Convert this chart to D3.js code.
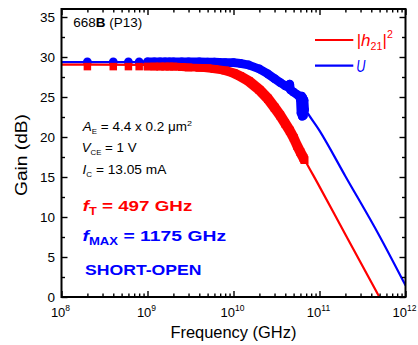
<!DOCTYPE html>
<html><head><meta charset="utf-8">
<script src="https://cdn.jsdelivr.net/npm/d3@7"></script>
<style>
body{margin:0;background:#fff}
text{font-family:"Liberation Sans",Arial,sans-serif}
</style>
</head><body>
<svg id="c" width="418" height="345"></svg>
<script>
// ---------- data (frequency in GHz, gain in dB) ----------
const h21LineFreqGHz = [0.1, 1, 3, 10, 20, 30, 50, 67, 100, 200, 497];
const h21LineDb      = [29.05, 29.0, 28.85, 28.2, 26.1, 23.8, 19.8, 17.2, 13.8, 7.8, 0];

const uLineFreqGHz = [0.1, 1, 10, 20, 30, 45, 60, 70, 100, 200, 500, 1000];
const uLineDb      = [29.35, 29.35, 29.2, 28.5, 27.3, 26.0, 24.6, 23.3, 20.8, 15.1, 7.6, 1.45];

const h21MeasFreqGHz = [0.2,0.4,0.6,0.8,1.0,1.2,1.4,1.6,1.8,2.0,2.5,3,4,5,6,8,10,12,15,20,25,30,35,40,45,50,55,60,65,67];
const h21MeasDb      = [28.8,28.8,28.8,28.8,28.8,28.8,28.8,28.8,28.8,28.8,28.75,28.7,28.65,28.6,28.5,28.3,28.0,27.6,27.0,25.9,24.8,23.7,22.7,21.7,20.8,19.9,18.9,18.1,17.4,17.1];

const uMeasFreqGHz = [0.2,0.4,0.6,0.8,1.0,1.2,1.4,1.6,1.8,2.0,2.5,3,4,5,6,8,10,12,15,20,25,30,35,40,44,45,46,50,55,58,60,61,62,63,64,65,66,67];
const uMeasDb      = [29.4,29.4,29.4,29.4,29.4,29.4,29.4,29.4,29.4,29.4,29.4,29.4,29.4,29.35,29.35,29.3,29.3,29.2,29.0,28.5,27.9,27.3,26.8,26.4,26.2,26.6,25.9,25.6,25.3,25.1,24.7,23.0,25.1,22.6,24.9,22.7,24.6,23.4];

const xTickExponents = [8, 9, 10, 11, 12];
const yTicks = [0, 5, 10, 15, 20, 25, 30, 35];
const seriesNames = ["h21", "U"];
const colors = {h21: "#ff0000", U: "#0000ff"};

// ---------- scales ----------
const GHz = 1e9;
const svg = d3.select("#c");
const x = d3.scaleLog().domain([1e8, 1e12]).range([61.5, 405.5]);
const y = d3.scaleLinear().domain([0, 36]).range([297, 9]);
const [X0, X1] = x.range(), [Y0, Y1] = y.range();

svg.append("clipPath").attr("id", "clip").append("rect")
  .attr("x", X0).attr("y", Y1).attr("width", X1 - X0).attr("height", Y0 - Y1);

const plot = svg.append("g").attr("clip-path", "url(#clip)");
const smooth = d3.line().x(d => x(d[0] * GHz)).y(d => y(d[1])).curve(d3.curveMonotoneX);
const straight = d3.line().x(d => x(d[0] * GHz)).y(d => y(d[1]));

// U (blue): thin line, then dense circle markers (union of circles = round stroke)
const uLine = d3.zip(uLineFreqGHz, uLineDb);
const uMeas = d3.zip(uMeasFreqGHz, uMeasDb);
plot.append("path").attr("d", smooth(uLine)).attr("fill", "none")
  .attr("stroke", colors.U).attr("stroke-width", 2.2);
plot.append("path").attr("d", straight(uMeas.filter(d => d[0] >= 1.0))).attr("fill", "none")
  .attr("stroke", colors.U).attr("stroke-width", 8.8)
  .attr("stroke-linecap", "round").attr("stroke-linejoin", "round");
plot.selectAll("circle.u").data(uMeas).join("circle").attr("class", "u")
  .attr("cx", d => x(d[0] * GHz)).attr("cy", d => y(d[1])).attr("r", 4.4)
  .attr("fill", colors.U);

// |h21|^2 (red): thin line, then dense square markers (union of squares swept along the data)
const hLine = d3.zip(h21LineFreqGHz, h21LineDb);
const hMeas = d3.zip(h21MeasFreqGHz, h21MeasDb);
plot.append("path").attr("d", smooth(hLine)).attr("fill", "none")
  .attr("stroke", colors.h21).attr("stroke-width", 2.2);
const hs = 3.75;
const dense = hMeas.filter(d => d[0] >= 1.0);
d3.pairs(dense).forEach(([a, b]) => {
  const pts = [];
  [a, b].forEach(d => {
    const px = x(d[0] * GHz), py = y(d[1]);
    pts.push([px - hs, py - hs], [px + hs, py - hs], [px + hs, py + hs], [px - hs, py + hs]);
  });
  plot.append("path").attr("d", "M" + d3.polygonHull(pts).join("L") + "Z").attr("fill", colors.h21);
});
plot.selectAll("rect.h").data(hMeas).join("rect").attr("class", "h")
  .attr("x", d => x(d[0] * GHz) - hs).attr("y", d => y(d[1]) - hs)
  .attr("width", 2 * hs).attr("height", 2 * hs).attr("fill", colors.h21);

// ---------- axes ----------
const majorX = xTickExponents.map(e => Math.pow(10, e));
const minorX = [];
xTickExponents.slice(0, -1).forEach(e => { for (let m = 2; m <= 9; m++) minorX.push(m * Math.pow(10, e)); });
const minorY = d3.range(2.5, 36, 5);

function styleAxis(g) {
  g.select(".domain").remove();
  g.selectAll(".tick line").attr("stroke", "#000").attr("stroke-width", 1.4);
  g.selectAll(".tick text").remove();
}
svg.append("g").attr("transform", `translate(0,${Y0})`)
  .call(d3.axisBottom(x).tickValues(majorX).tickSize(-6).tickFormat(() => "")).call(styleAxis);
svg.append("g").attr("transform", `translate(0,${Y0})`)
  .call(d3.axisBottom(x).tickValues(minorX).tickSize(-3.5).tickFormat(() => "")).call(styleAxis);
svg.append("g").attr("transform", `translate(0,${Y1})`)
  .call(d3.axisTop(x).tickValues(majorX).tickSize(-6).tickFormat(() => "")).call(styleAxis);
svg.append("g").attr("transform", `translate(0,${Y1})`)
  .call(d3.axisTop(x).tickValues(minorX).tickSize(-3.5).tickFormat(() => "")).call(styleAxis);
svg.append("g").attr("transform", `translate(${X0},0)`)
  .call(d3.axisLeft(y).tickValues(yTicks).tickSize(-6).tickFormat(() => "")).call(styleAxis);
svg.append("g").attr("transform", `translate(${X0},0)`)
  .call(d3.axisLeft(y).tickValues(minorY).tickSize(-3.5).tickFormat(() => "")).call(styleAxis);
svg.append("g").attr("transform", `translate(${X1},0)`)
  .call(d3.axisRight(y).tickValues(yTicks).tickSize(-6).tickFormat(() => "")).call(styleAxis);
svg.append("g").attr("transform", `translate(${X1},0)`)
  .call(d3.axisRight(y).tickValues(minorY).tickSize(-3.5).tickFormat(() => "")).call(styleAxis);

svg.append("rect").attr("x", X0).attr("y", Y1).attr("width", X1 - X0).attr("height", Y0 - Y1)
  .attr("fill", "none").attr("stroke", "#000").attr("stroke-width", 2);

// tick labels
xTickExponents.forEach(e => {
  const t = svg.append("text").attr("x", x(Math.pow(10, e)) - 1).attr("y", 316.7)
    .attr("text-anchor", "middle").attr("font-size", 13).attr("fill", "#000");
  t.append("tspan").text("10");
  t.append("tspan").attr("font-size", 8.5).attr("dy", -6).text(e);
});
yTicks.forEach(v => {
  svg.append("text").attr("x", 55).attr("y", y(v) + 4.8).attr("text-anchor", "end")
    .attr("font-size", 13.5).attr("fill", "#000").text(v);
});

// axis titles
svg.append("text").attr("x", 233.4).attr("y", 338).attr("text-anchor", "middle")
  .attr("font-size", 16).attr("textLength", 126).attr("lengthAdjust", "spacingAndGlyphs").text("Frequency (GHz)");
svg.append("text").attr("transform", "translate(27,155) rotate(-90)").attr("text-anchor", "middle")
  .attr("font-size", 16).attr("textLength", 82).attr("lengthAdjust", "spacingAndGlyphs").text("Gain (dB)");

// ---------- annotations ----------
function fit(t, left, width) {
  const bb = t.node().getBBox();
  const k = width / bb.width;
  t.attr("transform", `translate(${left},0) scale(${k},1) translate(${-bb.x},0)`);
}
function addText(left, base, width, size, fill, parts, weight) {
  const t = svg.append("text").attr("x", left).attr("y", base).attr("font-size", size)
    .attr("fill", fill).attr("font-weight", weight || "normal");
  parts.forEach(p => {
    const s = t.append("tspan").text(p.t);
    if (p.it) s.attr("font-style", "italic");
    if (p.b) s.attr("font-weight", "bold");
    if (p.fs) s.attr("font-size", p.fs);
    if (p.dy) s.attr("dy", p.dy);
  });
  fit(t, left, width);
  return t;
}
addText(73.3, 27.3, 69, 12.5, "#000", [{t:"668"},{t:"B", b:1},{t:" (P13)"}]);
addText(81.7, 131, 111, 12, "#000", [{t:"A", it:1},{t:"E", fs:7, dy:3},{t:" = 4.4 x 0.2 \u03bcm", dy:-3},{t:"2", fs:8, dy:-5}]);
addText(81.7, 152, 55, 12, "#000", [{t:"V", it:1},{t:"CE", fs:7, dy:3},{t:" = 1 V", dy:-3}]);
addText(82.5, 174, 84, 12, "#000", [{t:"I", it:1},{t:"C", fs:7, dy:3},{t:" = 13.05 mA", dy:-3}]);

addText(82.7, 211.5, 110, 15.5, colors.h21, [{t:"f", it:1},{t:"T", fs:10.5, dy:4},{t:" = 497 GHz", dy:-4}], "bold");
addText(82.5, 241.5, 144, 15.5, colors.U, [{t:"f", it:1},{t:"MAX", fs:10.5, dy:4},{t:" = 1175 GHz", dy:-4}], "bold");
svg.append("text").attr("x", 85).attr("y", 275).attr("font-size", 15.5).attr("font-weight", "bold")
  .attr("fill", colors.U).attr("textLength", 116.5).attr("lengthAdjust", "spacingAndGlyphs").text("SHORT-OPEN");

// ---------- legend ----------
const legendY = {h21: 40, U: 65.7};
seriesNames.forEach(n => {
  svg.append("line").attr("x1", 315).attr("x2", 353.3).attr("y1", legendY[n]).attr("y2", legendY[n])
    .attr("stroke", colors[n]).attr("stroke-width", 2.2);
});
addText(356.7, 46.5, 36.6, 16, colors.h21, [{t:"|"},{t:"h", it:1},{t:"21", fs:10, dy:4},{t:"|", dy:-4},{t:"2", fs:10, dy:-8}]);
addText(356.3, 71.7, 9.5, 16, colors.U, [{t:"U", it:1}]);
</script>
</body></html>
